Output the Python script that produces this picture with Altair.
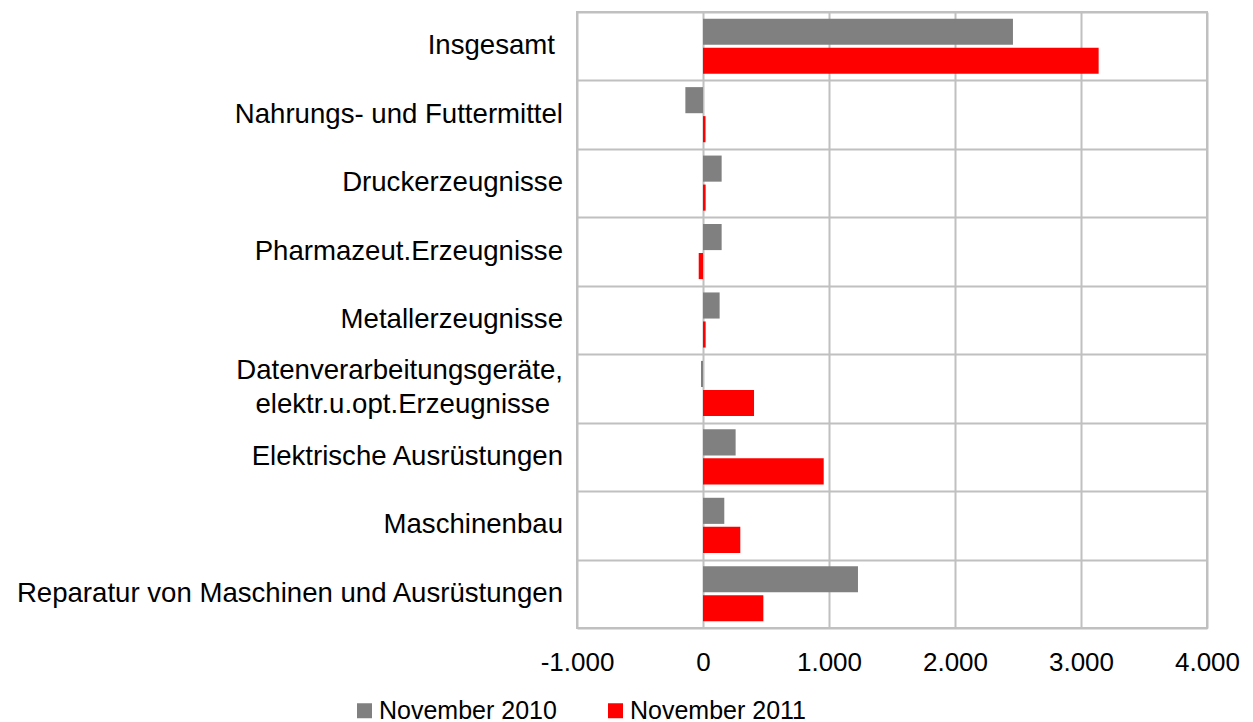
import altair as alt
import pandas as pd

categories = [
    "Insgesamt",
    "Nahrungs- und Futtermittel",
    "Druckerzeugnisse",
    "Pharmazeut.Erzeugnisse",
    "Metallerzeugnisse",
    "Datenverarbeitungsgeräte,\nelektr.u.opt.Erzeugnisse",
    "Elektrische Ausrüstungen",
    "Maschinenbau",
    "Reparatur von Maschinen und Ausrüstungen",
]
series = ["November 2010", "November 2011"]
nov2010 = [2460, -140, 148, 148, 132, -16, 259, 169, 1230]
nov2011 = [3140, 20, 21, -34, 21, 405, 958, 296, 479]
colors = ["#808080", "#FF0000"]

rows = []
for c, a, b in zip(categories, nov2010, nov2011):
    rows.append({"Kategorie": c, "Zeitraum": series[0], "Wert": a})
    rows.append({"Kategorie": c, "Zeitraum": series[1], "Wert": b})
df = pd.DataFrame(rows)

# one row per printed label line; "grp" selects the small text offset used below
lab_rows = []
for c in categories:
    lines = c.split("\n")
    if len(lines) == 2:
        lab_rows.append({"Kategorie": c, "Zeile": lines[0], "grp": "l1"})
        lab_rows.append({"Kategorie": c, "Zeile": lines[1], "grp": "l2"})
    elif c == "Insgesamt":
        lab_rows.append({"Kategorie": c, "Zeile": c, "grp": "sp"})
    else:
        lab_rows.append({"Kategorie": c, "Zeile": c, "grp": "n"})
lab_df = pd.DataFrame(lab_rows)

FONT = "Liberation Sans"
GRID = "#c0c0c0"

y_enc = alt.Y(
    "Kategorie:N",
    sort=categories,
    scale=alt.Scale(paddingInner=0, paddingOuter=0),
    axis=alt.Axis(
        title=None,
        labels=False,
        ticks=False,
        domain=False,
        grid=True,
        tickBand="extent",
        gridColor=GRID,
        gridWidth=2,
        gridOpacity=1,
    ),
)

bars = (
    alt.Chart(df)
    .mark_bar()
    .encode(
        y=y_enc,
        yOffset=alt.YOffset(
            "Zeitraum:N",
            sort=series,
            scale=alt.Scale(paddingInner=0.1, paddingOuter=0.23),
        ),
        x=alt.X(
            "Wert:Q",
            scale=alt.Scale(domain=[-1000, 4000], nice=False),
            axis=alt.Axis(
                title=None,
                values=[-1000, 0, 1000, 2000, 3000, 4000],
                labelExpr="(datum.value < 0 ? '-' : '') + replace(format(abs(datum.value), ',.0f'), ',', '.')",
                labelFont=FONT,
                labelFontSize=26,
                labelColor="#000000",
                labelPadding=21,
                labelFlush=False,
                labelOverlap=False,
                ticks=False,
                domain=False,
                grid=True,
                gridColor=GRID,
                gridWidth=2,
                gridOpacity=1,
            ),
        ),
        color=alt.Color(
            "Zeitraum:N",
            sort=series,
            scale=alt.Scale(domain=series, range=colors),
            legend=alt.Legend(
                title=None,
                orient="none",
                direction="horizontal",
                legendX=-225,
                legendY=686,
                symbolType="square",
                symbolSize=225,
                symbolStrokeWidth=0,
                symbolOpacity=1,
                labelFont=FONT,
                labelFontSize=25,
                labelColor="#000000",
                labelOffset=2,
                columnPadding=46,
                labelLimit=400,
            ),
        ),
    )
)

label_kw = dict(align="right", baseline="middle", font=FONT, fontSize=27.6, color="#000000")


def label_layer(grp, dx=0, dy=0):
    return (
        alt.Chart(lab_df)
        .transform_filter(alt.datum.grp == grp)
        .mark_text(dx=dx, dy=dy, **label_kw)
        .encode(y=alt.Y("Kategorie:N", sort=categories), x=alt.value(-14), text="Zeile:N")
    )


chart = (
    alt.layer(
        bars,
        label_layer("n"),
        label_layer("sp", dx=-8),
        label_layer("l1", dy=-17),
        label_layer("l2", dx=-13, dy=17),
    )
    .properties(
        width=630,
        height=616,
        autosize=alt.AutoSizeParams(type="none"),
        padding={"left": 569, "top": 4, "right": 37, "bottom": 94},
    )
    .configure_view(stroke=GRID, strokeWidth=2)
)

chart.save("out.html", embed_options={"renderer": "svg", "actions": False})
